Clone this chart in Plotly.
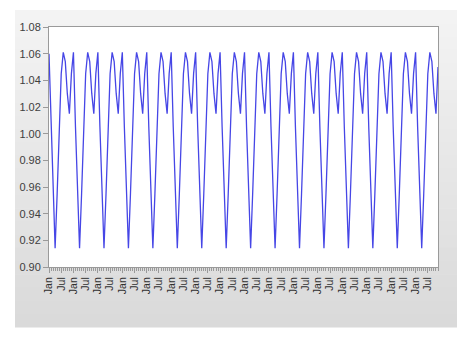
import plotly.graph_objects as go

values = [
    1.060, 1.005, 0.950, 0.914, 0.955, 1.005, 1.045, 1.061, 1.054, 1.030, 1.015, 1.045,
    1.061, 1.005, 0.950, 0.914, 0.955, 1.005, 1.045, 1.061, 1.054, 1.030, 1.015, 1.045,
    1.061, 1.005, 0.950, 0.914, 0.955, 1.005, 1.045, 1.061, 1.054, 1.030, 1.015, 1.045,
    1.061, 1.005, 0.950, 0.914, 0.955, 1.005, 1.045, 1.061, 1.054, 1.030, 1.015, 1.045,
    1.061, 1.005, 0.950, 0.914, 0.955, 1.005, 1.045, 1.061, 1.054, 1.030, 1.015, 1.045,
    1.061, 1.005, 0.950, 0.914, 0.955, 1.005, 1.045, 1.061, 1.054, 1.030, 1.015, 1.045,
    1.061, 1.005, 0.950, 0.914, 0.955, 1.005, 1.045, 1.061, 1.054, 1.030, 1.015, 1.045,
    1.061, 1.005, 0.950, 0.914, 0.955, 1.005, 1.045, 1.061, 1.054, 1.030, 1.015, 1.045,
    1.061, 1.005, 0.950, 0.914, 0.955, 1.005, 1.045, 1.061, 1.054, 1.030, 1.015, 1.045,
    1.061, 1.005, 0.950, 0.914, 0.955, 1.005, 1.045, 1.061, 1.054, 1.030, 1.015, 1.045,
    1.061, 1.005, 0.950, 0.914, 0.955, 1.005, 1.045, 1.061, 1.054, 1.030, 1.015, 1.045,
    1.061, 1.005, 0.950, 0.914, 0.955, 1.005, 1.045, 1.061, 1.054, 1.030, 1.015, 1.045,
    1.061, 1.005, 0.950, 0.914, 0.955, 1.005, 1.045, 1.061, 1.054, 1.030, 1.015, 1.045,
    1.061, 1.005, 0.950, 0.914, 0.955, 1.005, 1.045, 1.061, 1.054, 1.030, 1.015, 1.045,
    1.061, 1.005, 0.950, 0.914, 0.955, 1.005, 1.045, 1.061, 1.054, 1.030, 1.015, 1.045,
    1.061, 1.005, 0.950, 0.914, 0.955, 1.005, 1.045, 1.061, 1.054, 1.030, 1.015, 1.050,
]
month_index = list(range(len(values)))

# Tick labels: Jan and Jul of each year
tick_positions = [i for i in month_index if i % 6 == 0]
tick_labels = ["Jan" if i % 12 == 0 else "Jul" for i in tick_positions]

y_ticks = [0.90, 0.92, 0.94, 0.96, 0.98, 1.00, 1.02, 1.04, 1.06, 1.08]

W, H = 468, 341
L, R, T, B = 49, 30, 27, 74
pw, ph = W - L - R, H - T - B

def px_to_paper_x(px):
    return (px - L) / pw

def px_to_paper_y(py):
    return (H - B - py) / ph

shapes = []
# gray panel with vertical gradient (bands)
top, bottom = 10, 327
n = 24
c_top, c_bot = 243, 218
for k in range(n):
    y0 = top + (bottom - top) * k / n
    y1 = top + (bottom - top) * (k + 1) / n + 0.6
    c = round(c_top + (c_bot - c_top) * k / (n - 1))
    shapes.append(dict(type="rect", xref="paper", yref="paper", layer="below",
                       x0=px_to_paper_x(15), x1=px_to_paper_x(457),
                       y0=px_to_paper_y(y1), y1=px_to_paper_y(y0),
                       fillcolor=f"rgb({c},{c},{c})", line=dict(width=0)))
# white plot area
shapes.append(dict(type="rect", xref="paper", yref="paper", layer="below",
                   x0=0, x1=1, y0=0, y1=1, fillcolor="white", line=dict(width=0)))

fig = go.Figure()
fig.add_trace(go.Scatter(x=month_index, y=values, mode="lines",
                         line=dict(color="rgb(70,70,230)", width=1.3),
                         hoverinfo="skip", showlegend=False))

fig.update_layout(
    width=W, height=H,
    margin=dict(l=L, r=R, t=T, b=B, pad=0),
    paper_bgcolor="white", plot_bgcolor="white",
    shapes=shapes,
    font=dict(family="Liberation Sans, Arial, sans-serif", color="#404040"),
)
fig.update_xaxes(
    range=[0, len(values) - 1], tickmode="array", tickvals=tick_positions,
    ticktext=tick_labels, tickangle=-90, tickfont=dict(size=10.5, color="#303030"),
    ticks="outside", ticklen=5, tickcolor="#9a9a9a", tickwidth=1,
    minor=dict(dtick=1, ticks="outside", ticklen=3, tickcolor="#9a9a9a", tickwidth=1),
    showline=True, linecolor="#9a9a9a", linewidth=1, mirror=True,
    showgrid=False, zeroline=False,
)
fig.update_yaxes(
    range=[0.90, 1.08], tickmode="array", tickvals=y_ticks,
    ticktext=[f"{v:.2f}" for v in y_ticks], tickfont=dict(size=11, color="#404040"),
    ticks="outside", ticklen=5, tickcolor="#9a9a9a", tickwidth=1,
    showline=True, linecolor="#9a9a9a", linewidth=1, mirror=True,
    showgrid=False, zeroline=False,
)

fig.write_html("out.html")
